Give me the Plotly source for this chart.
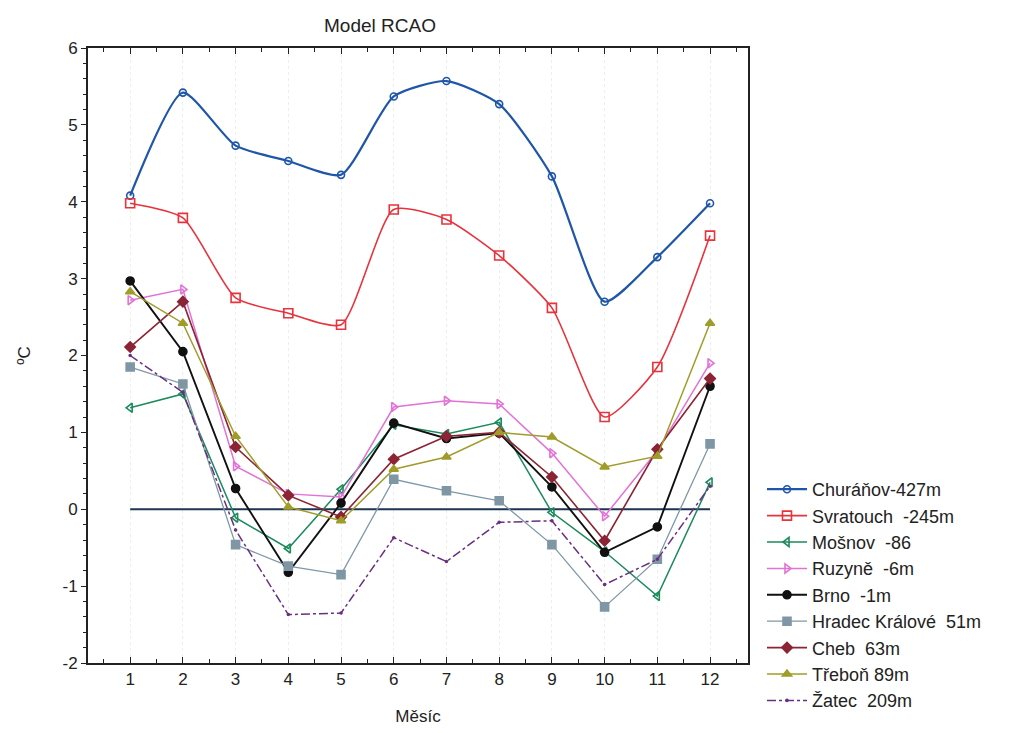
import plotly.graph_objects as go

# Monthly temperature differences (°C) by station, model RCAO
months = [1, 2, 3, 4, 5, 6, 7, 8, 9, 10, 11, 12]
y_ticks = [-2, -1, 0, 1, 2, 3, 4, 5, 6]
y_tick_labels = ["-2", "-1", "0", "1", "2", "3", "4", "5", "6"]

churanov = [4.08, 5.42, 4.73, 4.53, 4.35, 5.37, 5.57, 5.27, 4.33, 2.70, 3.28, 3.98]
svratouch = [3.98, 3.79, 2.75, 2.55, 2.40, 3.90, 3.77, 3.30, 2.62, 1.20, 1.85, 3.56]
mosnov = [1.32, 1.50, -0.11, -0.51, 0.26, 1.10, 0.98, 1.13, -0.04, -0.55, -1.13, 0.35]
ruzyne = [2.72, 2.86, 0.56, 0.20, 0.16, 1.33, 1.41, 1.37, 0.73, -0.09, 0.76, 1.90]
brno = [2.97, 2.05, 0.27, -0.82, 0.08, 1.12, 0.92, 0.99, 0.29, -0.56, -0.23, 1.60]
hradec = [1.85, 1.63, -0.46, -0.74, -0.85, 0.39, 0.24, 0.11, -0.46, -1.27, -0.65, 0.85]
cheb = [2.11, 2.70, 0.81, 0.18, -0.10, 0.65, 0.95, 1.00, 0.42, -0.41, 0.78, 1.70]
trebon = [2.83, 2.42, 0.95, 0.03, -0.15, 0.52, 0.68, 1.00, 0.94, 0.55, 0.69, 2.42]
zatec = [2.00, 1.52, -0.27, -1.37, -1.35, -0.37, -0.68, -0.17, -0.15, -0.98, -0.65, 0.30]

series = [
    ("Churáňov-427m", churanov, "#1f56a8", "circle-open", 7, 2.2, "solid", "spline"),
    ("Svratouch  -245m", svratouch, "#e8323c", "square-open", 9, 1.6, "solid", "spline"),
    ("Mošnov  -86", mosnov, "#1b8a5c", "triangle-left-open", 8, 1.5, "solid", "linear"),
    ("Ruzyně  -6m", ruzyne, "#e272d6", "triangle-right-open", 8, 1.5, "solid", "linear"),
    ("Brno  -1m", brno, "#111111", "circle", 8, 1.9, "solid", "linear"),
    ("Hradec Králové  51m", hradec, "#7f97a5", "square", 8, 1.3, "solid", "linear"),
    ("Cheb  63m", cheb, "#8b2434", "diamond", 8, 1.6, "solid", "linear"),
    ("Třeboň 89m", trebon, "#a09c2a", "triangle-up", 8, 1.5, "solid", "linear"),
    ("Žatec  209m", zatec, "#6b2f80", "circle", 2, 1.5, "dashdot", "linear"),
]

fig = go.Figure()

# reference line at 0 °C across the year
fig.add_trace(go.Scatter(
    x=[months[0], months[-1]], y=[0, 0], mode="lines",
    line=dict(color="#1d3550", width=2.2), showlegend=False, hoverinfo="skip",
))

for name, vals, color, sym, size, width, dash, shape in series:
    fig.add_trace(go.Scatter(
        x=months, y=vals, name=name, mode="lines+markers",
        line=dict(color=color, width=width, dash=dash, shape=shape, smoothing=0.6),
        marker=dict(symbol=sym, size=size, color=color,
                    line=dict(color=color, width=1.6)),
    ))

base_font = "Liberation Sans, Arial, sans-serif"
tick_font = dict(family=base_font, size=17, color="#222222")

fig.update_layout(
    width=1029, height=733,
    margin=dict(l=88, r=281, t=48, b=70, autoexpand=False),
    paper_bgcolor="white", plot_bgcolor="white",
    font=dict(family=base_font, size=17, color="#222222"),
    title=dict(text="Model RCAO", x=380 / 1029, xanchor="center", y=1 - 25 / 733,
               yanchor="middle", font=dict(size=19, color="#222222")),
    legend=dict(x=1.0 + 14 / 660, xanchor="left", y=(733 - 70 - 471) / (733 - 118),
                yanchor="top", font=dict(size=18, color="#222222"),
                bgcolor="rgba(0,0,0,0)", tracegroupgap=0, itemwidth=40),
    xaxis=dict(
        range=[0.2, 12.72], tickvals=months, ticktext=[str(m) for m in months],
        ticks="inside", ticklen=6, tickcolor="#222222", mirror="ticks",
        showline=True, linecolor="#222222", linewidth=2,
        showgrid=True, gridcolor="#eeeeee", griddash="dot", zeroline=False,
        minor=dict(dtick=0.5, tick0=0.5, ticks="inside", ticklen=4, tickcolor="#222222"),
        title=dict(text="Měsíc", font=dict(size=17), standoff=22),
        tickfont=tick_font,
    ),
    yaxis=dict(
        range=[-2, 6], tickvals=y_ticks, ticktext=y_tick_labels,
        ticks="outside", ticklen=5, tickcolor="#222222",
        showline=True, mirror=True, linecolor="#222222", linewidth=2,
        showgrid=False, zeroline=False,
        minor=dict(dtick=0.2, ticks="outside", ticklen=3, tickcolor="#222222"),
        title=dict(text="ºC", font=dict(size=17), standoff=28),
        tickfont=tick_font,
    ),
    yaxis2=dict(
        overlaying="y", side="right", range=[-2, 6], dtick=1, matches="y",
        ticks="inside", ticklen=6, tickcolor="#222222", showticklabels=False,
        showline=False, showgrid=False, zeroline=False,
        minor=dict(dtick=0.2, ticks="inside", ticklen=4, tickcolor="#222222"),
    ),
)

fig.write_html("out.html")
